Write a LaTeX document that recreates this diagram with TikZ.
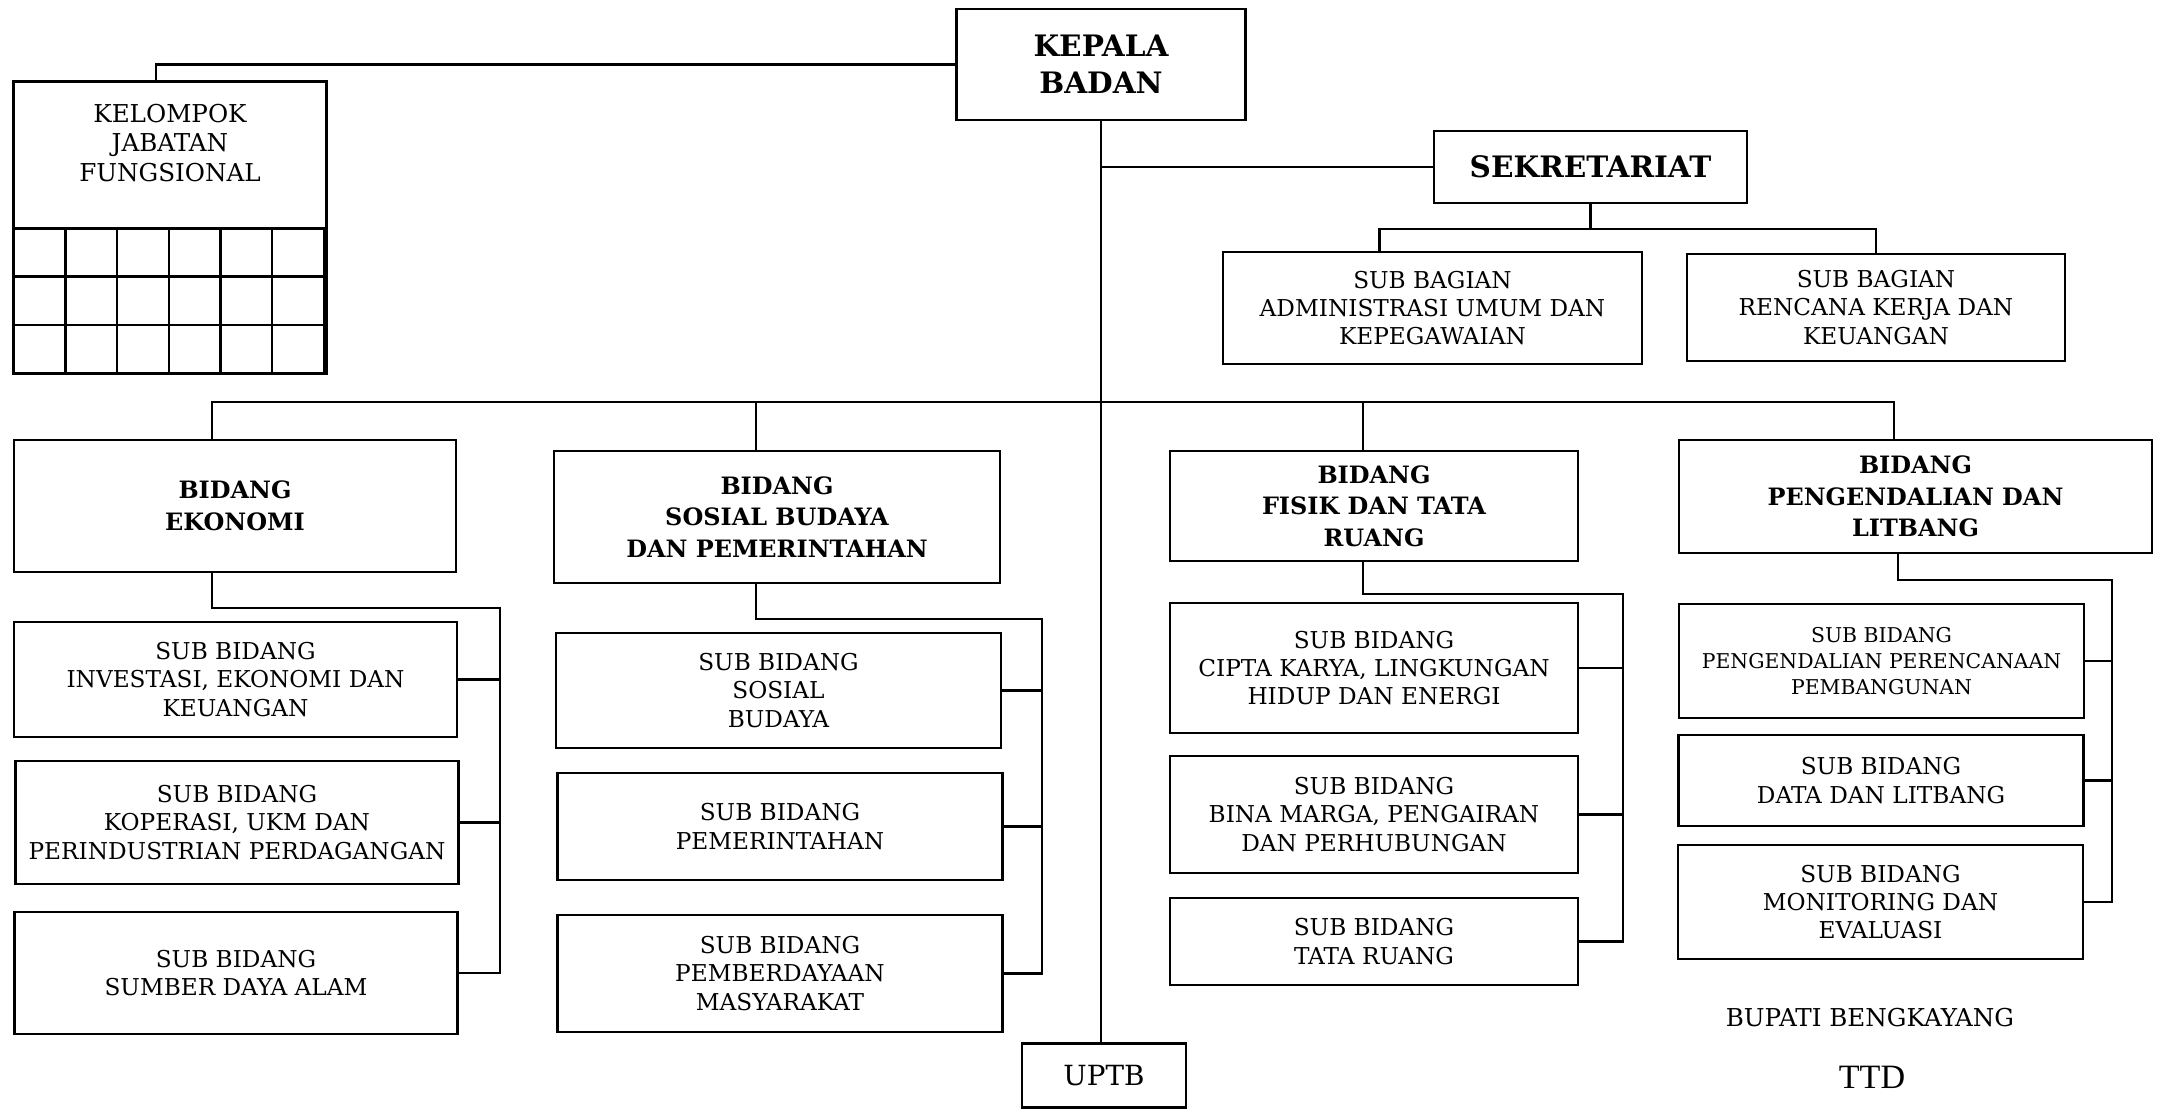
\documentclass[tikz,border=0pt]{standalone}
\usepackage{fontspec}
\setmainfont{DejaVu Serif}
\newfontfamily\ttdfont{Liberation Serif}

\begin{document}
\begin{tikzpicture}
    [x=0.01cm, y=-0.01cm, line width=0.7pt,
    font=\fontsize{6.6}{8}\selectfont,
    % every node/.style={draw=black!75, thick},
    unit/.style={draw, rectangle, inner sep=0pt, align=center},
    head/.style={unit, font=\fontsize{8.4}{10.6}\selectfont\bfseries},
    bidang/.style={unit, font=\fontsize{6.8}{9}\selectfont\bfseries}]
    \useasboundingbox (0,0) rectangle (2162,1110);

    \node [head, minimum width=2.89cm, minimum height=1.11cm] (kepala) at (1101,64.5) {KEPALA\\BADAN};
    \node [unit, draw=none, minimum width=3.10cm, minimum height=1.20cm,
        font=\fontsize{7}{8.5}\selectfont] (kjf) at (170,143) {KELOMPOK\\JABATAN\\FUNGSIONAL};
    \node [head, minimum width=3.13cm, minimum height=0.72cm] (sek) at (1590.5,167) {SEKRETARIAT};
    \node [unit, minimum width=4.19cm, minimum height=1.12cm] (admin) at (1432.5,308) {SUB BAGIAN\\ADMINISTRASI UMUM DAN\\KEPEGAWAIAN};
    \node [unit, minimum width=3.78cm, minimum height=1.07cm] (renja) at (1876,307.5) {SUB BAGIAN\\RENCANA KERJA DAN\\KEUANGAN};

    \node [bidang, minimum width=4.42cm, minimum height=1.32cm] (eko) at (235,506) {BIDANG\\EKONOMI};
    \node [bidang, minimum width=4.46cm, minimum height=1.32cm] (sos) at (777,517) {BIDANG\\SOSIAL BUDAYA\\DAN PEMERINTAHAN};
    \node [bidang, minimum width=4.08cm, minimum height=1.10cm] (fis) at (1374,506) {BIDANG\\FISIK DAN TATA\\RUANG};
    \node [bidang, minimum width=4.73cm, minimum height=1.13cm] (peng) at (1915.5,496.5) {BIDANG\\PENGENDALIAN DAN\\LITBANG};

    \node [unit, minimum width=4.43cm, minimum height=1.15cm] (eko1) at (235.5,679.5) {SUB BIDANG\\INVESTASI, EKONOMI DAN\\KEUANGAN};
    \node [unit, minimum width=4.43cm, minimum height=1.23cm] (eko2) at (237,822.5) {SUB BIDANG\\KOPERASI, UKM DAN\\PERINDUSTRIAN PERDAGANGAN};
    \node [unit, minimum width=4.43cm, minimum height=1.22cm] (eko3) at (236,973) {SUB BIDANG\\SUMBER DAYA ALAM};

    \node [unit, minimum width=4.45cm, minimum height=1.15cm] (sos1) at (778.5,690.5) {SUB BIDANG\\SOSIAL\\BUDAYA};
    \node [unit, minimum width=4.45cm, minimum height=1.07cm] (sos2) at (780,826.5) {SUB BIDANG\\PEMERINTAHAN};
    \node [unit, minimum width=4.45cm, minimum height=1.17cm] (sos3) at (780,973.5) {SUB BIDANG\\PEMBERDAYAAN\\MASYARAKAT};

    \node [unit, minimum width=4.08cm, minimum height=1.30cm] (fis1) at (1374,668) {SUB BIDANG\\CIPTA KARYA, LINGKUNGAN\\HIDUP DAN ENERGI};
    \node [unit, minimum width=4.08cm, minimum height=1.17cm] (fis2) at (1374,814.5) {SUB BIDANG\\BINA MARGA, PENGAIRAN\\DAN PERHUBUNGAN};
    \node [unit, minimum width=4.08cm, minimum height=0.87cm] (fis3) at (1374,941.5) {SUB BIDANG\\TATA RUANG};

    \node [unit, minimum width=4.05cm, minimum height=1.14cm,
        font=\fontsize{5.8}{7.4}\selectfont] (peng1) at (1881.5,661) {SUB BIDANG\\PENGENDALIAN PERENCANAAN\\PEMBANGUNAN};
    \node [unit, minimum width=4.05cm, minimum height=0.91cm] (peng2) at (1881,780.5) {SUB BIDANG\\DATA DAN LITBANG};
    \node [unit, minimum width=4.05cm, minimum height=1.14cm] (peng3) at (1880.5,902) {SUB BIDANG\\MONITORING DAN\\EVALUASI};

    \node [unit, minimum width=1.64cm, minimum height=0.64cm, font=\fontsize{7.9}{9}\selectfont] (uptb) at (1104,1075.5) {UPTB};
    \node [font=\fontsize{7}{8}\selectfont] (bupati) at (1870,1018) {BUPATI BENGKAYANG};
    \node [font=\ttdfont\fontsize{9.7}{11}\selectfont] (ttd) at (1872,1077) {TTD};

    % kelompok jabatan fungsional
    \draw (kjf.north west) rectangle ([yshift=-1.69cm]kjf.south east);
    \foreach \c in {0,...,5}
        \foreach \r in {0,1,2}
            \draw ([xshift=\c*0.5167cm, yshift=-0.24cm-\r*0.4833cm]kjf.south west) rectangle ++(0.5167cm,-0.4833cm);
    \draw (kepala.west) -| ([xshift=-0.14cm]kjf.north);

    \draw (kepala.south) -- (kepala.south |- uptb.north);
    \draw (sek.west) -- (sek.west -| kepala.south);
    \draw (sek.south) -- ++(0,25) coordinate (sekbus);
    \draw ([xshift=-0.53cm]admin.north) |- (sekbus) -| (renja.north);

    \coordinate (bus) at (1101,402);
    \draw ([xshift=-0.23cm]eko.north) |- (bus) -| ([xshift=-0.215cm]peng.north);
    \draw ([xshift=-0.21cm]sos.north) -- ([xshift=-0.21cm]sos.north |- bus);
    \draw ([xshift=-0.11cm]fis.north) -- ([xshift=-0.11cm]fis.north |- bus);

    \coordinate (ekorail) at (500,608);
    \coordinate (sosrail) at (1042,619);
    \coordinate (fisrail) at (1623,594);
    \coordinate (pengrail) at (2112,580);
    \draw ([xshift=-0.23cm]eko.south) |- (ekorail) |- (eko3.east);
    \draw ([xshift=-0.21cm]sos.south) |- (sosrail) |- (sos3.east);
    \draw ([xshift=-0.11cm]fis.south) |- (fisrail) |- (fis3.east);
    \draw ([xshift=-0.175cm]peng.south) |- (pengrail) |- (peng3.east);
    \foreach \s in {eko1,eko2} \draw (\s.east) -- (\s.east -| ekorail);
    \foreach \s in {sos1,sos2} \draw (\s.east) -- (\s.east -| sosrail);
    \foreach \s in {fis1,fis2} \draw (\s.east) -- (\s.east -| fisrail);
    \foreach \s in {peng1,peng2} \draw (\s.east) -- (\s.east -| pengrail);
\end{tikzpicture}
\end{document}
